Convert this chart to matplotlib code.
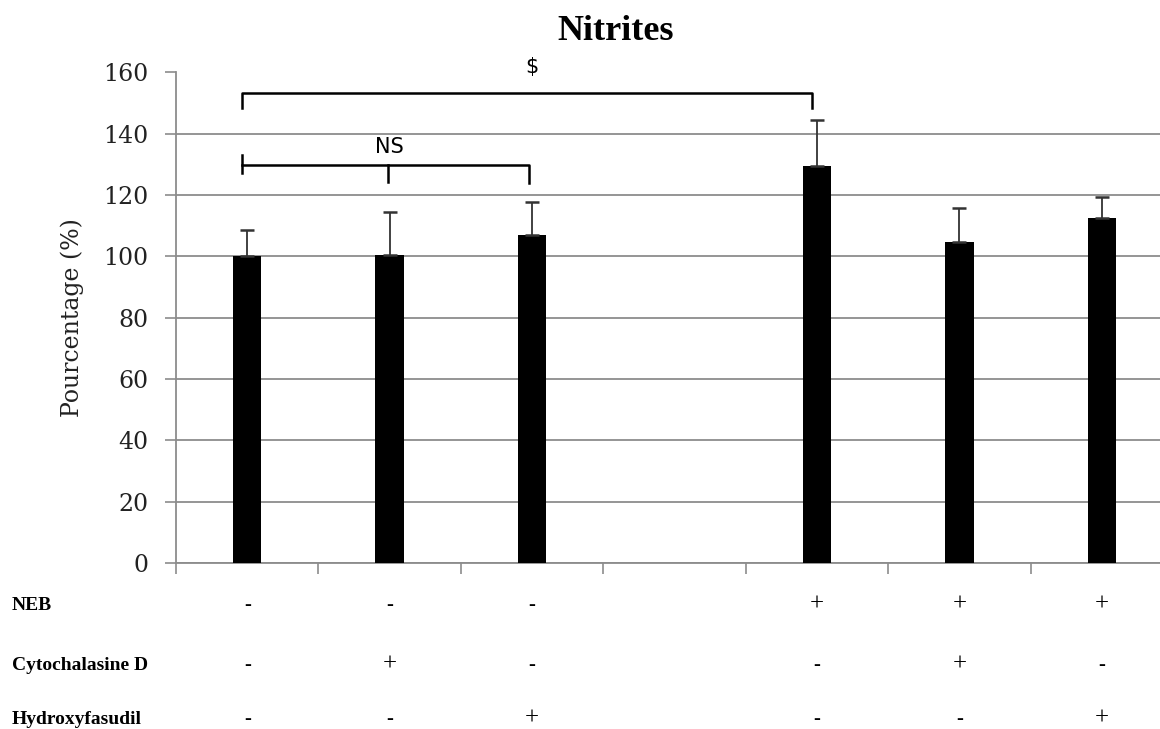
import numpy as np
import matplotlib.pyplot as plt
import matplotlib.transforms as mtransforms

plt.rcParams['font.family'] = ['Liberation Serif', 'DejaVu Serif']

# donnees (7 emplacements, le 4e est vide)
positions = [0, 1, 2, 4, 5, 6]
valeurs = [100, 100.5, 107, 129.6, 104.6, 112.4]
erreurs = [8.6, 14.1, 10.6, 14.9, 11.2, 7.0]

lignes = ["NEB", "Cytochalasine D", "Hydroxyfasudil"]
signes = [
    ["-", "-", "-", "+", "+", "+"],
    ["-", "+", "-", "-", "+", "-"],
    ["-", "-", "+", "-", "-", "+"],
]
lignes_y = [605, 665, 719]

fig = plt.figure(figsize=(11.6, 7.29), dpi=100)
ax = fig.add_axes([176/1160, 1-563/729, 997/1160, (563-72.5)/729])

ax.bar(positions, valeurs, width=0.2, color='black', zorder=3)
ax.errorbar(positions, valeurs, yerr=[np.zeros(len(erreurs)), erreurs], fmt='none',
            ecolor='#333333', elinewidth=1.3, capsize=5, capthick=1.8, zorder=4)

ax.set_xlim(-0.5, 6.5)
ax.set_ylim(0, 160)
ax.set_yticks(np.arange(0, 161, 20))
ax.set_xticks(np.arange(-0.5, 6.6, 1))
ax.set_xticklabels([])
ax.yaxis.grid(True, color='#8c8c8c', linewidth=1.3, zorder=0)
for s in ['top', 'right']:
    ax.spines[s].set_visible(False)
for s in ['left', 'bottom']:
    ax.spines[s].set_color('#8c8c8c')
    ax.spines[s].set_linewidth(1.3)
ax.tick_params(axis='y', colors='#8c8c8c', length=8, width=1.2, labelcolor='#222222', labelsize=17, pad=12)
ax.tick_params(axis='x', colors='#8c8c8c', length=8, width=1.2)
for lab in ax.get_yticklabels():
    lab.set_family('DejaVu Serif')
ax.set_ylabel("Pourcentage (%)", fontsize=17, family='DejaVu Serif', color='#222222', labelpad=14)

# crochets de significativite
lw = 1.8
ax.plot([-0.035, -0.035, 3.965, 3.965], [148.5, 153.3, 153.3, 148.5], color='black', lw=lw, clip_on=False)
ax.text(2.0, 158.5, "$", fontsize=15, family='DejaVu Sans', ha='center', va='bottom', clip_on=False)
ax.plot([-0.035, -0.035], [127.2, 133.2], color='black', lw=lw)
ax.plot([-0.035, 1.98, 1.98], [129.8, 129.8, 123.8], color='black', lw=lw)
ax.plot([0.99, 0.99], [129.8, 124.3], color='black', lw=lw)
ax.text(1.0, 132.5, "NS", fontsize=15, family='DejaVu Sans', ha='center', va='bottom')

fig.text(616/1160, 1-31/729, "Nitrites", fontsize=26, fontweight='bold', ha='center', va='center')

# tableau des traitements sous l'axe
trans = mtransforms.blended_transform_factory(ax.transData, fig.transFigure)
for i, nom in enumerate(lignes):
    y = 1 - lignes_y[i]/729
    fig.text(12/1160, y, nom, fontsize=14, fontweight='bold', ha='left', va='center')
    for p, s in zip(positions, signes[i]):
        if s == "-":
            ax.text(p, y, "-", transform=trans, fontsize=15, fontweight='bold', ha='center', va='center')
        else:
            ax.text(p, y, "+", transform=trans, fontsize=18, ha='center', va='center')

fig.savefig("out.png", dpi=100)
